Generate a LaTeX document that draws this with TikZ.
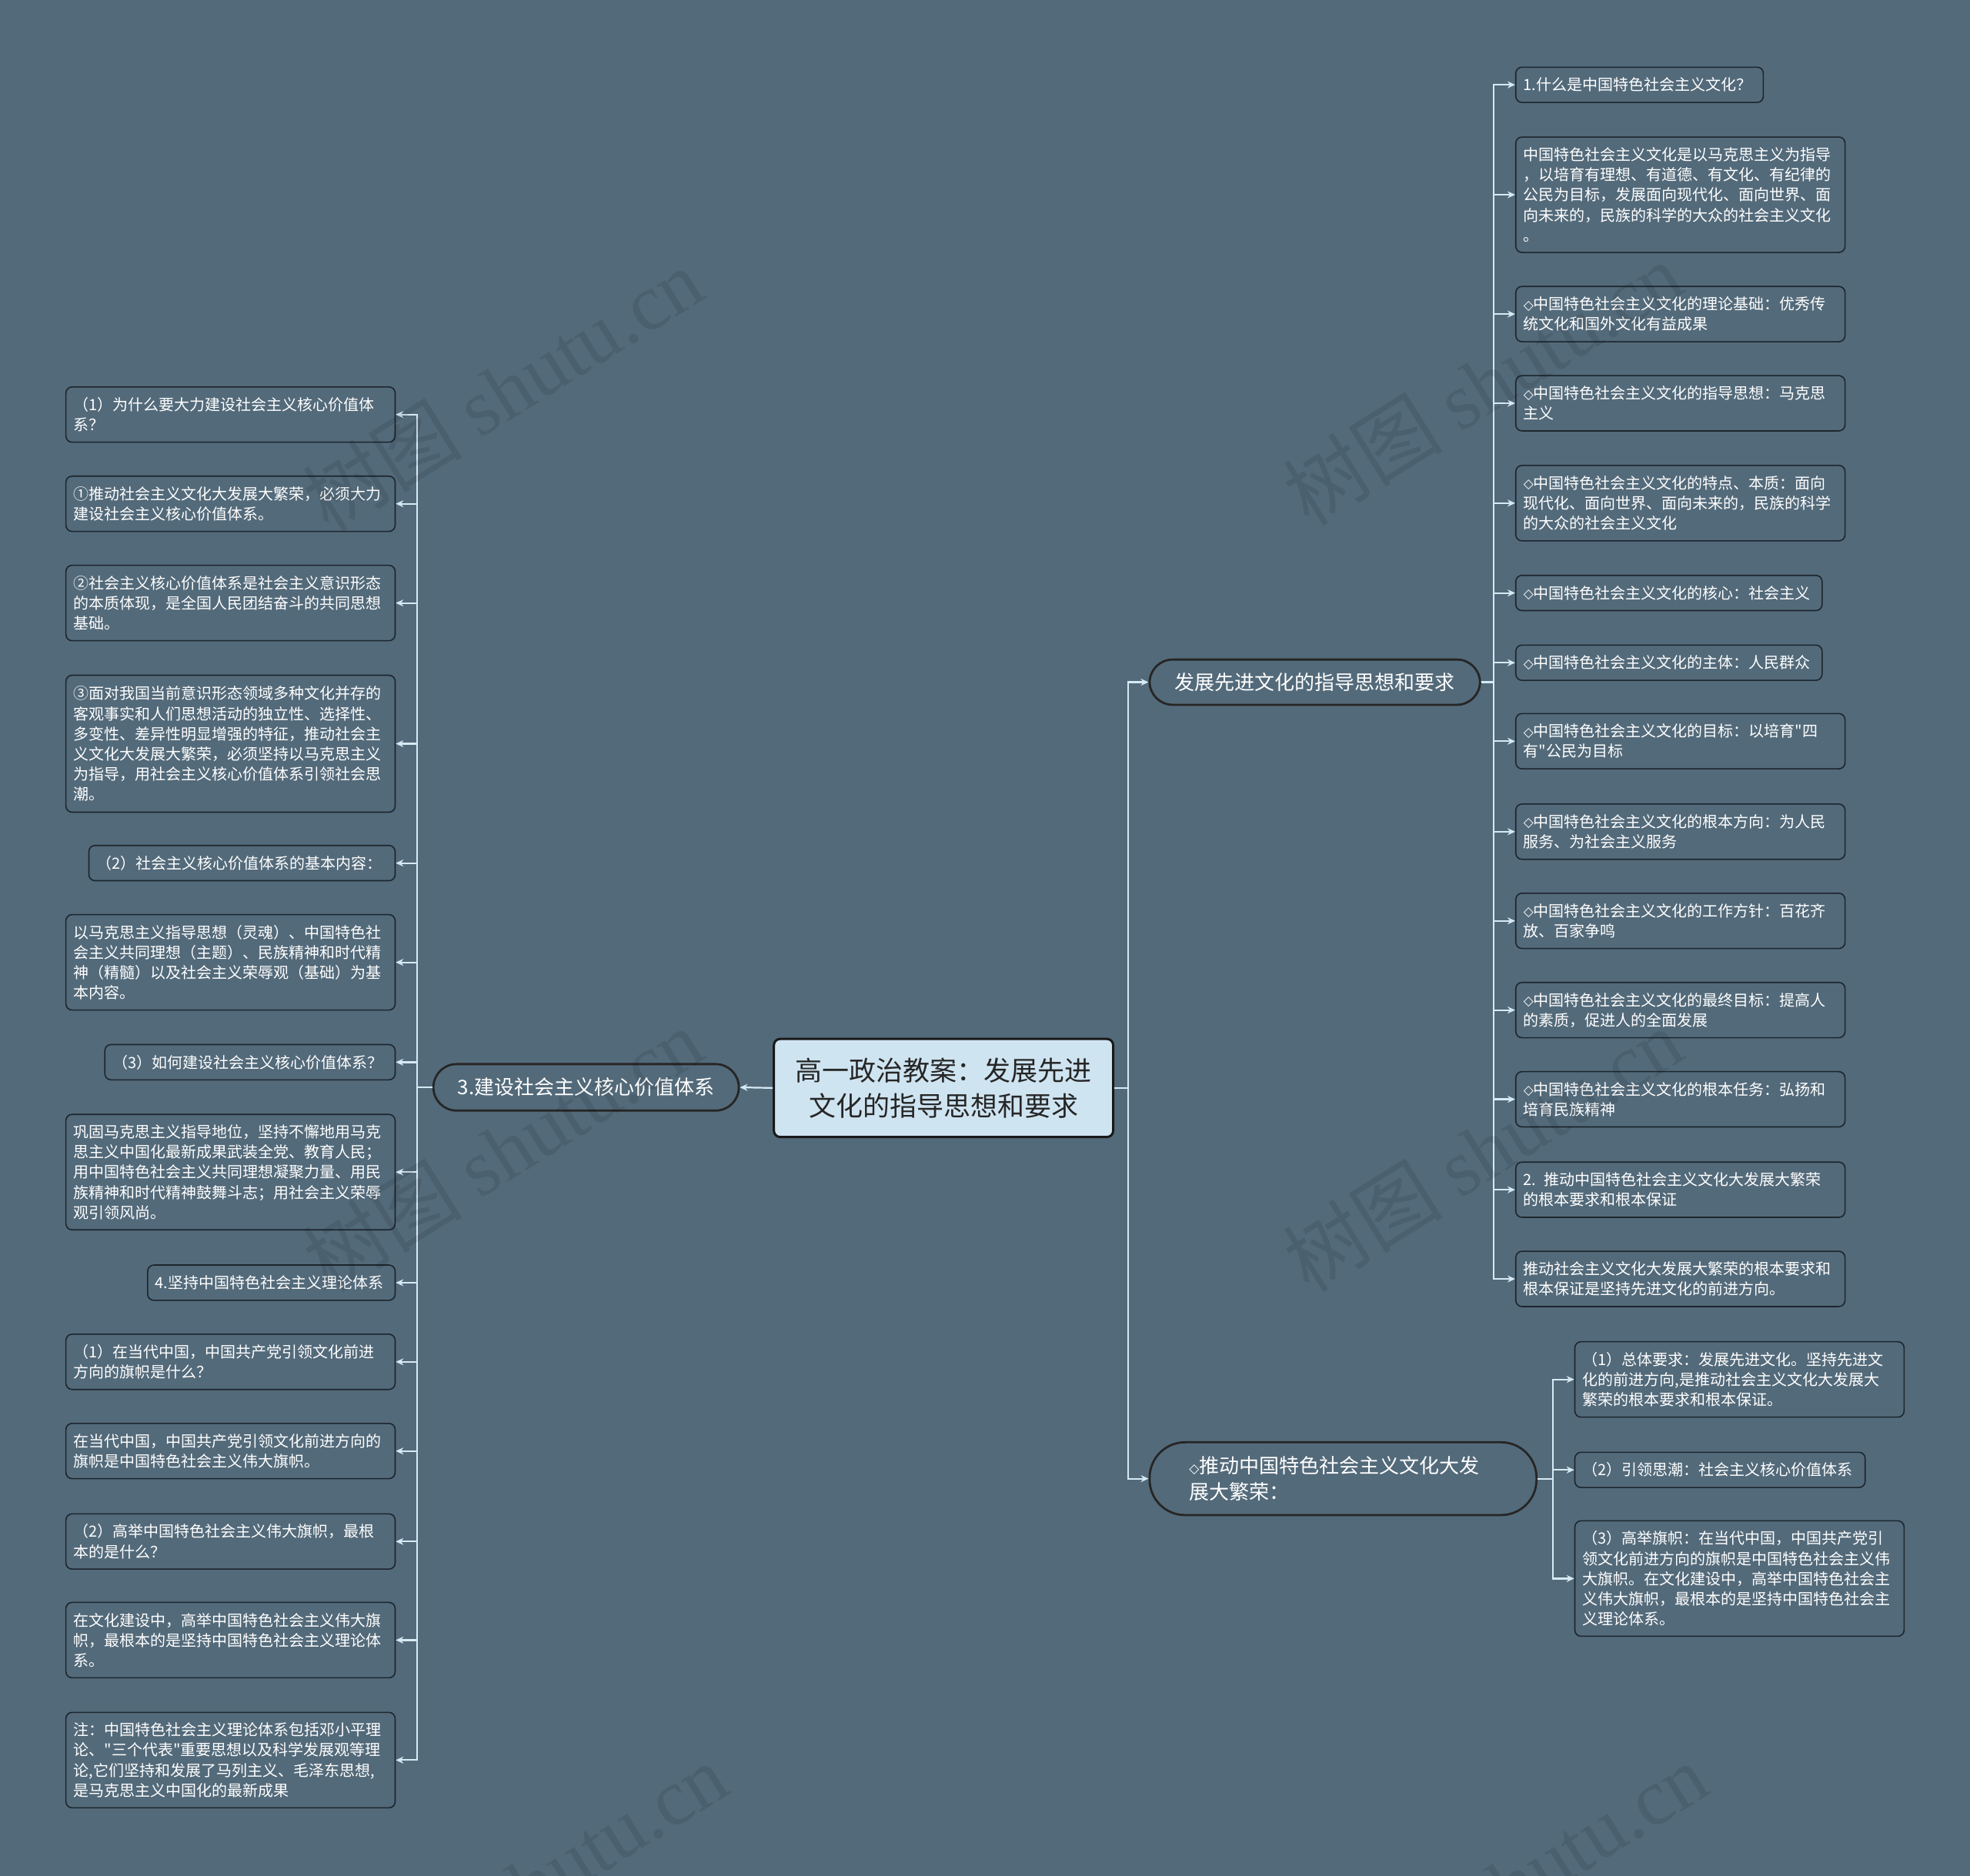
\documentclass[tikz,border=0pt]{standalone}
\usepackage{fontspec}
\setmainfont{Noto Sans CJK SC}
\newfontfamily\djv{DejaVu Sans}
\newfontfamily\qf{Noto Sans CJK SC}
\newfontfamily\wmserif{Liberation Serif}
\usetikzlibrary{arrows.meta}
\definecolor{bgc}{RGB}{83,106,122}
\definecolor{bdc}{RGB}{28,38,46}
\definecolor{lnc}{RGB}{214,234,245}
\definecolor{cfill}{RGB}{207,228,241}
\newcommand{\dm}{{\djv\fontsize{8.5}{8.5}\selectfont\raisebox{0.3pt}{◇}}}
\newcommand{\q}{{\qf"}}
\tikzset{
  leaf/.style={draw=bdc, fill=bgc, rounded corners=4pt, line width=0.8pt, text=white,
    font=\fontsize{10}{13.06}\selectfont, align=left, inner xsep=5pt, inner ysep=2pt},
  wA/.style={text width=203.9pt},
  wB/.style={text width=189pt},
  wC/.style={text width=178.6pt},
  wD/.style={text width=150.8pt},
  hA/.style={minimum height=22.9pt},
  hB/.style={minimum height=35.9pt},
  hC/.style={minimum height=49pt},
  hD/.style={minimum height=62pt},
  hE/.style={minimum height=75pt},
  hF/.style={minimum height=89pt},
  pill/.style={draw=black!85, fill=bgc, line width=1.4pt, text=white,
    font=\fontsize{13}{17}\selectfont},
  conn/.style={draw=lnc, line width=1.1pt, -{Stealth[length=5pt,width=4.5pt]}},
  wm/.style={text=black, opacity=0.09, font=\fontsize{52}{52}\selectfont, rotate=32}
}
\begin{document}
\begin{tikzpicture}[x=0.8163pt, y=-0.8163pt]
\useasboundingbox (0,0) rectangle (1568,1493);
\fill[bgc] (0,0) rectangle (1568,1493);

% center
\node[draw=black!90, fill=cfill, line width=1.5pt, rounded corners=4pt, text=black!85,
  font=\fontsize{17.5}{23}\selectfont, align=center, minimum width=220.4pt,
  minimum height=63.7pt] (C) at (751,866) {高一政治教案：发展先进\\文化的指导思想和要求};

% branches
\node[pill, rounded corners=15pt, minimum width=198.4pt, minimum height=30.2pt] (B3) at (466.5,865.5) {3.建设社会主义核心价值体系};
\node[pill, rounded corners=15pt, minimum width=214.7pt, minimum height=29.4pt] (R1) at (1046.5,543) {发展先进文化的指导思想和要求};
\node[pill, rounded corners=23pt, text width=200pt, align=left, inner xsep=25.7pt, minimum height=47.3pt] (R2) at (1069,1177) {\dm 推动中国特色社会主义文化大发\\展大繁荣：};

% left leaves
\node[leaf,wA,hB,anchor=east] (L1) at (315,330) {（1）为什么要大力建设社会主义核心价值体\\系？};
\node[leaf,wA,hB,anchor=east] (L2) at (315,401) {①推动社会主义文化大发展大繁荣，必须大力\\建设社会主义核心价值体系。};
\node[leaf,wA,hC,anchor=east] (L3) at (315,480) {②社会主义核心价值体系是社会主义意识形态\\的本质体现，是全国人民团结奋斗的共同思想\\基础。};
\node[leaf,wA,hF,anchor=east] (L4) at (315,592) {③面对我国当前意识形态领域多种文化并存的\\客观事实和人们思想活动的独立性、选择性、\\多变性、差异性明显增强的特征，推动社会主\\义文化大发展大繁荣，必须坚持以马克思主义\\为指导，用社会主义核心价值体系引领社会思\\潮。};
\node[leaf,wB,hA,anchor=east] (L5) at (315,687) {（2）社会主义核心价值体系的基本内容：};
\node[leaf,wA,hD,anchor=east] (L6) at (315,766) {以马克思主义指导思想（灵魂）、中国特色社\\会主义共同理想（主题）、民族精神和时代精\\神（精髓）以及社会主义荣辱观（基础）为基\\本内容。};
\node[leaf,wC,hA,anchor=east] (L7) at (315,845.5) {（3）如何建设社会主义核心价值体系？};
\node[leaf,wA,hE,anchor=east] (L8) at (315,933) {巩固马克思主义指导地位，坚持不懈地用马克\\思主义中国化最新成果武装全党、教育人民；\\用中国特色社会主义共同理想凝聚力量、用民\\族精神和时代精神鼓舞斗志；用社会主义荣辱\\观引领风尚。};
\node[leaf,wD,hA,anchor=east] (L9) at (315,1021) {4.坚持中国特色社会主义理论体系};
\node[leaf,wA,hB,anchor=east] (L10) at (315,1084) {（1）在当代中国，中国共产党引领文化前进\\方向的旗帜是什么？};
\node[leaf,wA,hB,anchor=east] (L11) at (315,1155) {在当代中国，中国共产党引领文化前进方向的\\旗帜是中国特色社会主义伟大旗帜。};
\node[leaf,wA,hB,anchor=east] (L12) at (315,1227) {（2）高举中国特色社会主义伟大旗帜，最根\\本的是什么？};
\node[leaf,wA,hC,anchor=east] (L13) at (315,1305.5) {在文化建设中，高举中国特色社会主义伟大旗\\帜，最根本的是坚持中国特色社会主义理论体\\系。};
\node[leaf,wA,hD,anchor=east] (L14) at (315,1401) {注：中国特色社会主义理论体系包括邓小平理\\论、\q 三个代表\q 重要思想以及科学发展观等理\\论,它们坚持和发展了马列主义、毛泽东思想,\\是马克思主义中国化的最新成果};

% right leaves of R1
\node[leaf,wD,hA,anchor=west] (Ra) at (1206,67.5) {1.什么是中国特色社会主义文化？};
\node[leaf,wA,hE,anchor=west] (Rb) at (1206,155) {中国特色社会主义文化是以马克思主义为指导\\，以培育有理想、有道德、有文化、有纪律的\\公民为目标，发展面向现代化、面向世界、面\\向未来的，民族的科学的大众的社会主义文化\\。};
\node[leaf,wA,hB,anchor=west] (Rc) at (1206,250) {\dm 中国特色社会主义文化的理论基础：优秀传\\统文化和国外文化有益成果};
\node[leaf,wA,hB,anchor=west] (Rd) at (1206,321) {\dm 中国特色社会主义文化的指导思想：马克思\\主义};
\node[leaf,wA,hC,anchor=west] (Re) at (1206,400.5) {\dm 中国特色社会主义文化的特点、本质：面向\\现代化、面向世界、面向未来的，民族的科学\\的大众的社会主义文化};
\node[leaf,wB,hA,anchor=west] (Rf) at (1206,472) {\dm 中国特色社会主义文化的核心：社会主义};
\node[leaf,wB,hA,anchor=west] (Rg) at (1206,527.5) {\dm 中国特色社会主义文化的主体：人民群众};
\node[leaf,wA,hB,anchor=west] (Rh) at (1206,590) {\dm 中国特色社会主义文化的目标：以培育\q 四\\有\q 公民为目标};
\node[leaf,wA,hB,anchor=west] (Ri) at (1206,662) {\dm 中国特色社会主义文化的根本方向：为人民\\服务、为社会主义服务};
\node[leaf,wA,hB,anchor=west] (Rj) at (1206,733) {\dm 中国特色社会主义文化的工作方针：百花齐\\放、百家争鸣};
\node[leaf,wA,hB,anchor=west] (Rk) at (1206,804) {\dm 中国特色社会主义文化的最终目标：提高人\\的素质，促进人的全面发展};
\node[leaf,wA,hB,anchor=west] (Rl) at (1206,875) {\dm 中国特色社会主义文化的根本任务：弘扬和\\培育民族精神};
\node[leaf,wA,hB,anchor=west] (Rm) at (1206,947) {2. 推动中国特色社会主义文化大发展大繁荣\\的根本要求和根本保证};
\node[leaf,wA,hB,anchor=west] (Rn) at (1206,1018) {推动社会主义文化大发展大繁荣的根本要求和\\根本保证是坚持先进文化的前进方向。};

% right leaves of R2
\node[leaf,wA,hC,anchor=west] (P1) at (1253,1098) {（1）总体要求：发展先进文化。坚持先进文\\化的前进方向,是推动社会主义文化大发展大\\繁荣的根本要求和根本保证。};
\node[leaf,wC,hA,anchor=west] (P2) at (1253,1170) {（2）引领思潮：社会主义核心价值体系};
\node[leaf,wA,hE,anchor=west] (P3) at (1253,1256.5) {（3）高举旗帜：在当代中国，中国共产党引\\领文化前进方向的旗帜是中国特色社会主义伟\\大旗帜。在文化建设中，高举中国特色社会主\\义伟大旗帜，最根本的是坚持中国特色社会主\\义理论体系。};

% connectors
\draw[conn] (C.west) -- (B3.east);
\draw[conn] (C.east) -- ++(11,0) |- (R1.west);
\draw[conn] (C.east) -- ++(11,0) |- (R2.west);
\foreach \n in {L1,L2,L3,L4,L5,L6,L7,L8,L9,L10,L11,L12,L13,L14}
  \draw[conn] (B3.west) -- ++(-12,0) |- (\n.east);
\foreach \n in {Ra,Rb,Rc,Rd,Re,Rf,Rg,Rh,Ri,Rj,Rk,Rl,Rm,Rn}
  \draw[conn] (R1.east) -- ++(10,0) |- (\n.west);
\foreach \n in {P1,P2,P3}
  \draw[conn] (R2.east) -- ++(12,0) |- (\n.west);

% watermarks
\node[wm] (W1) at (400,310) {树图 {\wmserif shutu.cn}};
\node[wm] (W2) at (1180,305) {树图 {\wmserif shutu.cn}};
\node[wm] (W3) at (400,915) {树图 {\wmserif shutu.cn}};
\node[wm] (W4) at (1180,915) {树图 {\wmserif shutu.cn}};
\node[wm] (W5) at (420,1500) {树图 {\wmserif shutu.cn}};
\node[wm] (W6) at (1200,1500) {树图 {\wmserif shutu.cn}};
\end{tikzpicture}
\end{document}
